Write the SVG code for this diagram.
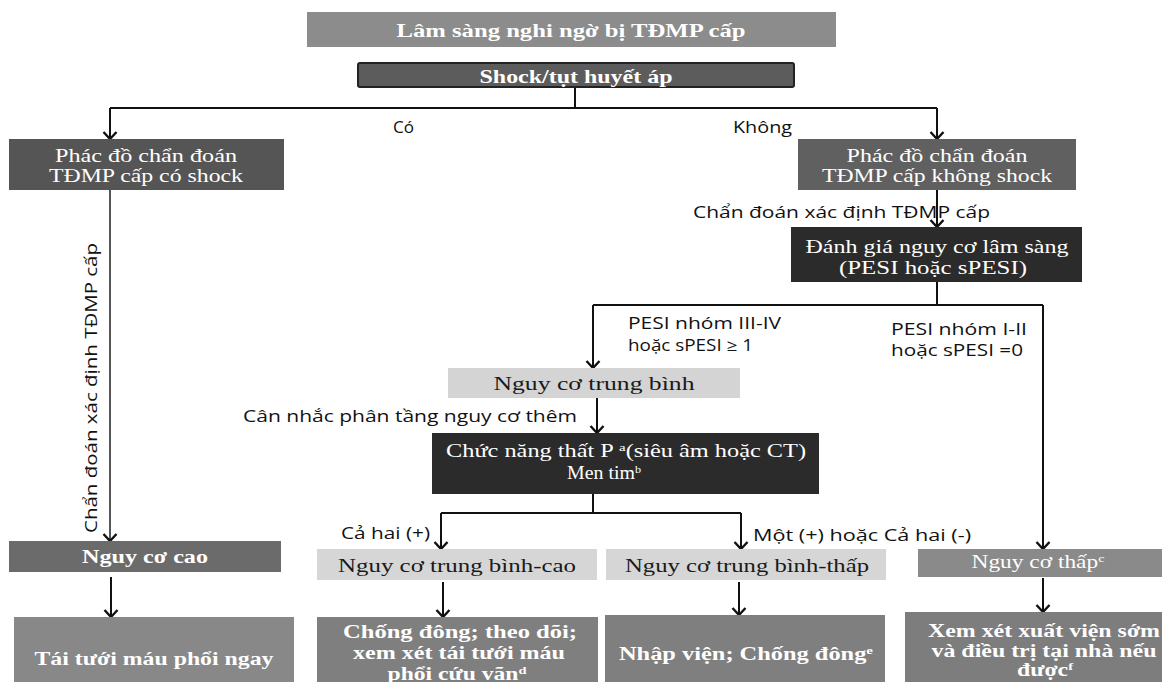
<svg xmlns="http://www.w3.org/2000/svg" width="1162" height="682" viewBox="0 0 1162 682">
<style>
.bw{font-family:"Liberation Serif","Times New Roman",serif;font-weight:bold;font-size:18px;fill:#fff;text-anchor:middle}
.rw{font-family:"Liberation Serif","Times New Roman",serif;font-size:18px;fill:#fff;text-anchor:middle}
.rd{font-family:"Liberation Serif","Times New Roman",serif;font-size:18px;fill:#1a1a1a;text-anchor:middle}
.lb{font-family:"Open Sans","Liberation Sans",sans-serif;font-size:16px;fill:#111}
.cn{fill:none;stroke:#111;stroke-width:2}
.ar{marker-end:url(#arr)}
.sup{font-size:11px}
</style>
<defs>
<marker id="arr" markerUnits="userSpaceOnUse" markerWidth="14" markerHeight="16" refX="8" refY="8" orient="auto" viewBox="0 0 14 16">
<path d="M1,1.5 L8,8 L1,14.5" fill="none" stroke="#111" stroke-width="2.4"/>
</marker>
</defs>
<rect width="1162" height="682" fill="#fff"/>

<g id="connectors">
<path class="cn" d="M575,88 V108 M110,108 H937"/>
<path class="cn ar" d="M110,108 V139"/>
<path class="cn ar" d="M937,108 V139"/>
<path class="cn ar" d="M110,190 V541" style="stroke:#555"/>
<path class="cn ar" d="M937,190 V227"/>
<path class="cn" d="M937,282 V305 M593,305 H1043"/>
<path class="cn ar" d="M593,305 V368"/>
<path class="cn ar" d="M1043,305 V549"/>
<path class="cn ar" d="M597,398 V433"/>
<path class="cn" d="M593,494 V513 M441,513 H741"/>
<path class="cn ar" d="M441,513 V549"/>
<path class="cn ar" d="M741,513 V549"/>
<path class="cn ar" d="M111,577 V617"/>
<path class="cn ar" d="M443,582 V617"/>
<path class="cn ar" d="M739,582 V615"/>
<path class="cn ar" d="M1043,578 V612"/>
<text class="lb" x="393" y="133" textLength="21" lengthAdjust="spacingAndGlyphs">Có</text>
<text class="lb" x="733" y="133" textLength="59" lengthAdjust="spacingAndGlyphs">Không</text>
<text class="lb" x="693" y="218" textLength="297" lengthAdjust="spacingAndGlyphs">Chẩn đoán xác định TĐMP cấp</text>
<text class="lb" transform="translate(97,388) rotate(-90)" x="0" y="0" text-anchor="middle" textLength="290" lengthAdjust="spacingAndGlyphs" style="font-size:17px">Chẩn đoán xác định TĐMP cấp</text>
<text class="lb" x="628" y="329" textLength="153" lengthAdjust="spacingAndGlyphs">PESI nhóm III-IV</text>
<text class="lb" x="628" y="351" textLength="125" lengthAdjust="spacingAndGlyphs">hoặc sPESI ≥ 1</text>
<text class="lb" x="891" y="335" textLength="136" lengthAdjust="spacingAndGlyphs">PESI nhóm I-II</text>
<text class="lb" x="891" y="356" textLength="132" lengthAdjust="spacingAndGlyphs">hoặc sPESI =0</text>
<text class="lb" x="243" y="422" textLength="334" lengthAdjust="spacingAndGlyphs">Cân nhắc phân tầng nguy cơ thêm</text>
<text class="lb" x="341" y="539" textLength="89" lengthAdjust="spacingAndGlyphs">Cả hai (+)</text>
<text class="lb" x="753" y="541" textLength="218" lengthAdjust="spacingAndGlyphs">Một (+) hoặc Cả hai (-)</text>
</g>

<g id="n-lamsang">
<rect x="307" y="12" width="529" height="35" fill="#8c8c8c"/>
<text class="bw" x="571" y="37" textLength="349" lengthAdjust="spacingAndGlyphs">Lâm sàng nghi ngờ  bị TĐMP cấp</text>
</g>
<g id="n-shock">
<rect x="358" y="63" width="436" height="24" rx="2" fill="#5c5c5c" stroke="#222" stroke-width="2"/>
<text class="bw" x="576" y="83" textLength="193" lengthAdjust="spacingAndGlyphs">Shock/tụt huyết áp</text>
</g>
<g id="n-phacdo-shock">
<rect x="9" y="139" width="275" height="51" fill="#555"/>
<text class="rw" x="146" y="162" textLength="182" lengthAdjust="spacingAndGlyphs">Phác đồ chẩn đoán</text>
<text class="rw" x="146" y="182" textLength="194" lengthAdjust="spacingAndGlyphs">TĐMP cấp có shock</text>
</g>
<g id="n-phacdo-khong">
<rect x="798" y="139" width="278" height="51" fill="#606060"/>
<text class="rw" x="937" y="162" textLength="181" lengthAdjust="spacingAndGlyphs">Phác đồ chẩn đoán</text>
<text class="rw" x="937" y="182" textLength="230" lengthAdjust="spacingAndGlyphs">TĐMP cấp không shock</text>
</g>
<g id="n-danhgia">
<rect x="791" y="227" width="291" height="55" fill="#2b2b2b"/>
<text class="rw" x="937" y="253" textLength="263" lengthAdjust="spacingAndGlyphs">Đánh giá nguy cơ lâm sàng</text>
<text class="rw" x="933" y="274" textLength="188" lengthAdjust="spacingAndGlyphs">(PESI hoặc sPESI)</text>
</g>
<g id="n-trungbinh">
<rect x="448" y="368" width="292" height="30" fill="#d4d4d4"/>
<text class="rd" x="594" y="390" textLength="201" lengthAdjust="spacingAndGlyphs">Nguy cơ trung bình</text>
</g>
<g id="n-chucnang">
<rect x="432" y="433" width="387" height="61" fill="#2b2b2b"/>
<text class="rw" x="626" y="457" textLength="360" lengthAdjust="spacingAndGlyphs">Chức năng thất P <tspan class="sup" baseline-shift="super">a</tspan>(siêu âm hoặc CT)</text>
<text class="rw" x="604" y="479" textLength="74" lengthAdjust="spacingAndGlyphs">Men tim<tspan class="sup" baseline-shift="super">b</tspan></text>
</g>
<g id="n-cao">
<rect x="9" y="541" width="272" height="31" fill="#6b6b6b"/>
<text class="bw" x="145" y="563" textLength="126" lengthAdjust="spacingAndGlyphs">Nguy cơ cao</text>
</g>
<g id="n-taituoi">
<rect x="14" y="617" width="280" height="65" fill="#888"/>
<text class="bw" x="154" y="665" textLength="239" lengthAdjust="spacingAndGlyphs">Tái tưới máu phổi ngay</text>
</g>
<g id="n-tbcao">
<rect x="317" y="549" width="280" height="31" fill="#d6d6d6"/>
<text class="rd" x="457" y="572" textLength="238" lengthAdjust="spacingAndGlyphs">Nguy cơ  trung bình-cao</text>
</g>
<g id="n-tbthap">
<rect x="606" y="549" width="280" height="31" fill="#d6d6d6"/>
<text class="rd" x="747" y="572" textLength="244" lengthAdjust="spacingAndGlyphs">Nguy cơ  trung bình-thấp</text>
</g>
<g id="n-thap">
<rect x="918" y="549" width="244" height="28" fill="#8a8a8a"/>
<text class="rw" x="1038" y="568" textLength="133" lengthAdjust="spacingAndGlyphs">Nguy cơ  thấp<tspan class="sup" baseline-shift="super">c</tspan></text>
</g>
<g id="n-chongdong">
<rect x="317" y="617" width="281" height="65" fill="#7f7f7f"/>
<text class="bw" x="460" y="638" textLength="234" lengthAdjust="spacingAndGlyphs">Chống đông; theo dõi;</text>
<text class="bw" x="459" y="659" textLength="212" lengthAdjust="spacingAndGlyphs">xem xét tái tưới máu</text>
<text class="bw" x="457" y="680" textLength="139" lengthAdjust="spacingAndGlyphs">phổi cứu vãn<tspan class="sup" baseline-shift="super">d</tspan></text>
</g>
<g id="n-nhapvien">
<rect x="605" y="615" width="280" height="67" fill="#7f7f7f"/>
<text class="bw" x="746" y="660" textLength="254" lengthAdjust="spacingAndGlyphs">Nhập viện; Chống đông<tspan class="sup" baseline-shift="super">e</tspan></text>
</g>
<g id="n-xemxet">
<rect x="905" y="612" width="257" height="70" fill="#7d7d7d"/>
<text class="bw" x="1044" y="637" textLength="232" lengthAdjust="spacingAndGlyphs">Xem xét xuất viện sớm</text>
<text class="bw" x="1044" y="657" textLength="225" lengthAdjust="spacingAndGlyphs">và điều trị tại nhà nếu</text>
<text class="bw" x="1045" y="676" textLength="56" lengthAdjust="spacingAndGlyphs">được<tspan class="sup" baseline-shift="super">f</tspan></text>
</g>
</svg>
